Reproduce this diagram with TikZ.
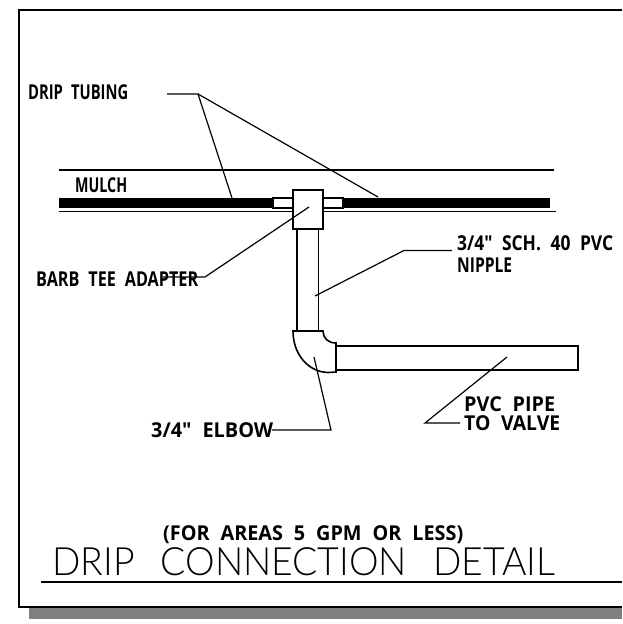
\documentclass[tikz,border=0pt]{standalone}
\usepackage{graphicx}
\usepackage{fontspec}
\setmainfont{Liberation Sans}
\newfontfamily\lab{Open Sans}
\newfontfamily\ttl{Lato Light}
\newcommand{\fitw}[2]{\resizebox{#1pt}{\height}{#2}}
\newcommand{\gap}{\hspace{.55em}}
\tikzset{
 leaderline/.style={line width=1.2pt,black},
 pipeline/.style={line width=1.6pt,black},
 lbl/.style={anchor=base west,inner sep=0pt,font=\lab\bfseries\fontsize{20.5}{21}\selectfont},
}
\begin{document}
\begin{tikzpicture}[x=1pt,y=-1pt]
\useasboundingbox (0,0) rectangle (622,624);
\fill[black!50] (29,608) rectangle (622,619);
\draw[line width=2pt] (622,9.5) -- (19,9.5) -- (19,607) -- (622,607);
% mulch and tubing
\draw[leaderline] (59,170) -- (554,170);
\fill (59,198) rectangle (273,208);
\fill (343,198) rectangle (550,208);
\draw[leaderline] (59,211.5) -- (293,211.5);
\draw[leaderline] (323,211.5) -- (556,211.5);
\draw[pipeline] (273,198) rectangle (293,208);
\draw[pipeline] (323,198) rectangle (343,208);
\draw[pipeline,fill=white] (293,190) rectangle (323,229);
% nipple
\draw[pipeline] (297,229) -- (297,331);
\draw[pipeline] (318.5,229) -- (318.5,331);
% elbow
\draw[pipeline] (293,331) -- (323,331) .. controls (323,338) and (328,343) .. (336,343) -- (336,372) -- (328,372.5) .. controls (308,372) and (293,354) .. cycle;
% pipe
\draw[pipeline] (336,346) -- (578,346) -- (578,370) -- (336,370);
% leaders
\coordinate (dtS) at (167,94);
\coordinate (dtK) at (198,94);
\coordinate (dtA) at (232,198);
\coordinate (dtB) at (378,197);
\draw[leaderline] (dtS) -- (dtK) -- (dtA);
\draw[leaderline] (dtK) -- (dtB);
\coordinate (btS) at (163,277);
\coordinate (btK) at (205,277);
\coordinate (btE) at (309,207);
\draw[leaderline] (btS) -- (btK) -- (btE);
\coordinate (npE) at (315,296);
\coordinate (npK) at (404,250.5);
\coordinate (npS) at (452,250.5);
\draw[leaderline] (npE) -- (npK) -- (npS);
\coordinate (elE) at (314,357);
\coordinate (elK) at (331,430);
\coordinate (elS) at (272,430);
\draw[leaderline] (elE) -- (elK) -- (elS);
\coordinate (ppE) at (507,357);
\coordinate (ppK) at (425,423);
\coordinate (ppS) at (460,423);
\draw[leaderline] (ppE) -- (ppK) -- (ppS);
% labels
\node[lbl] (a) at (28,99) {\fitw{100}{DRIP\gap TUBING}};
\node[lbl] (b) at (75,192) {\fitw{52}{MULCH}};
\node[lbl] (c) at (36,286) {\fitw{162}{BARB\gap TEE\gap ADAPTER}};
\node[lbl] (d) at (457,250) {\fitw{156}{3/4"\gap SCH.\gap 40\gap PVC}};
\node[lbl] (e) at (457,272) {\fitw{55}{NIPPLE}};
\node[lbl] (f) at (151,437) {\fitw{122}{3/4"\gap ELBOW}};
\node[lbl] (g) at (464,411) {\fitw{91}{PVC\gap PIPE}};
\node[lbl] (h) at (464,430) {\fitw{96}{TO\gap VALVE}};
\node[lbl] (i) at (163,540) {\fitw{300}{(FOR\gap AREAS\gap 5\gap GPM\gap OR\gap LESS)}};
\node[anchor=base west,inner sep=0pt,font=\ttl\fontsize{39}{40}\selectfont] (j) at (52,575) {\fitw{503}{DRIP\hspace{.7em}CONNECTION\hspace{.7em}DETAIL}};
\draw[leaderline,line width=1.6pt] (41,582) -- (622,582);
\end{tikzpicture}
\end{document}
